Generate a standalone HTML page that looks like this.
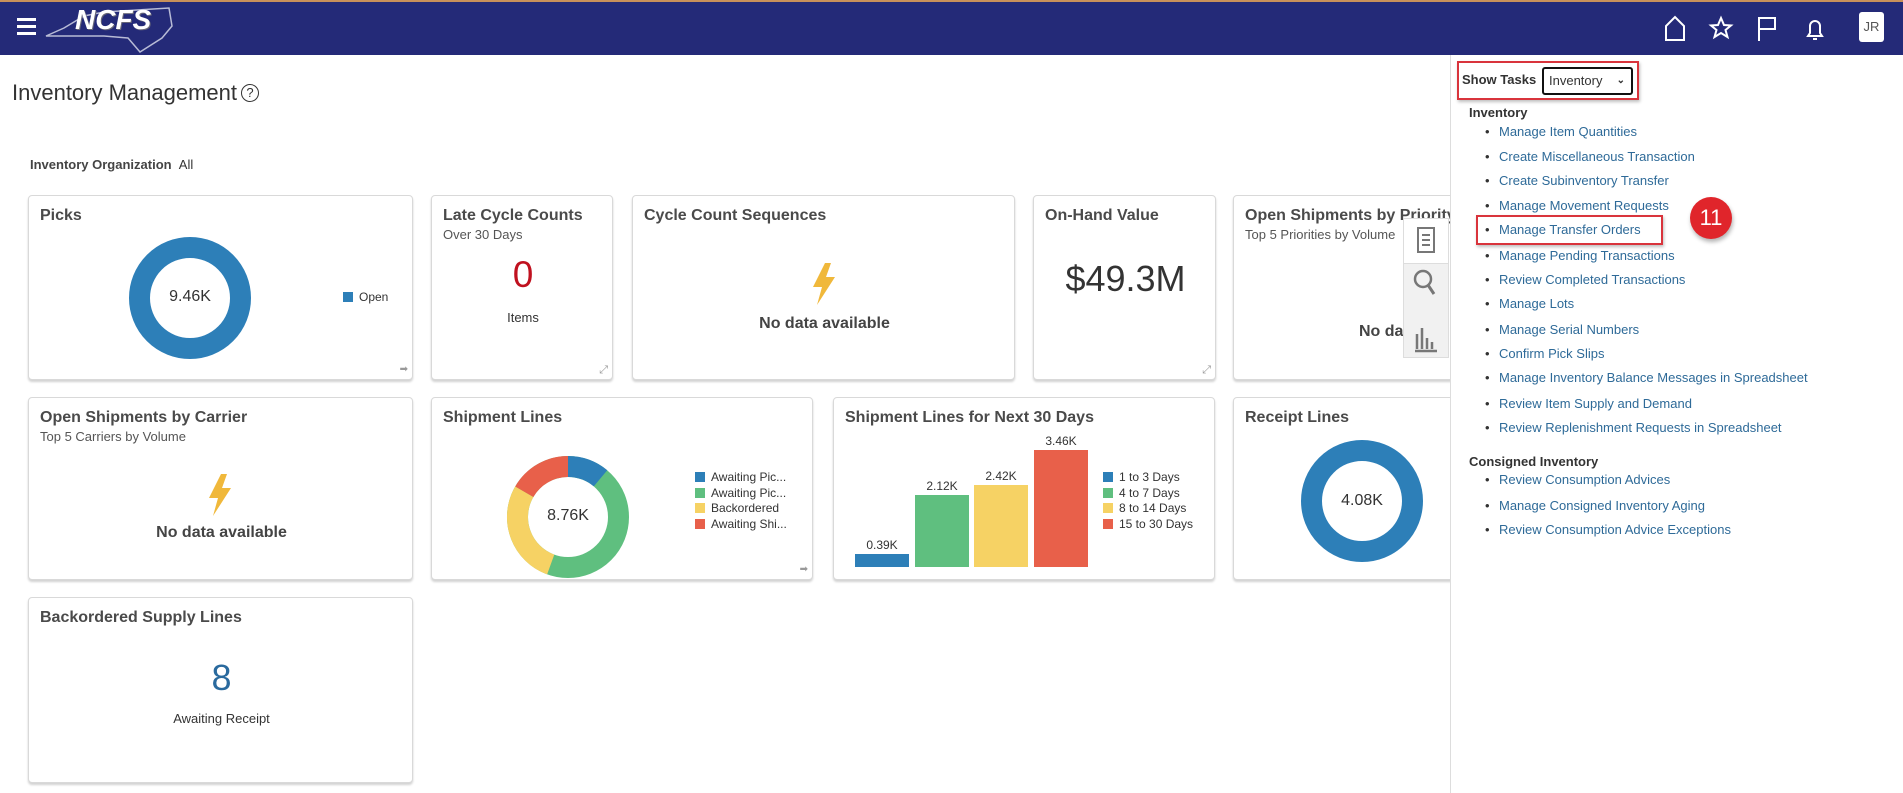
<!DOCTYPE html>
<html><head><meta charset="utf-8"><style>
*{margin:0;padding:0;box-sizing:border-box}
body{width:1903px;height:793px;background:#fff;font-family:"Liberation Sans",sans-serif;position:relative;overflow:hidden;color:#333}
.a{position:absolute;white-space:nowrap}
.card{position:absolute;background:#fff;border:1px solid #d9d9d9;border-radius:4px;box-shadow:0 2px 2px rgba(0,0,0,.18);overflow:hidden}
.t{position:absolute;left:11px;top:11px;font-size:16px;font-weight:bold;color:#4a4a4a}
.s{position:absolute;left:11px;top:31px;font-size:13px;color:#555}
.nd{font-size:16px;font-weight:bold;color:#444}
.lg{font-size:12px;color:#333}
.sq{display:inline-block;width:10px;height:10px;margin-right:6px;vertical-align:-1px}
.li{position:absolute;left:1499px;font-size:13px;color:#2e6a98}
.li:before{content:"•";position:absolute;left:-14px;color:#333}
</style></head><body>
<div class="a" style="left:0;top:0;width:1903px;height:55px;background:#242a78;border-top:2px solid #c8905a"></div>
<div class="a" style="left:17px;top:18px;width:19px;height:3px;background:#fff;box-shadow:0 7px 0 #fff,0 14px 0 #fff"></div>
<svg class="a" style="left:44px;top:4px" width="135" height="50"><path d="M2 32 L20 24 L40 12 L60 8 L125 4 L128 22 L118 34 L96 48 L84 34 L60 32 Z" fill="none" stroke="#b8bbd6" stroke-width="1.5"/></svg>
<div class="a" style="left:75px;top:4px;font-size:28px;font-weight:bold;font-style:italic;color:#fff;text-shadow:1px 1px 0 #667">NCFS</div>
<svg class="a" style="left:1662px;top:14px" width="230" height="30">
<path d="M4 26V12L13 3L22 12V26Z" fill="none" stroke="#fff" stroke-width="2"/>
<path d="M59 4l3 7 7 .5-5.5 4.5 2 7-6.5-4-6.5 4 2-7-5.5-4.5 7-.5z" fill="none" stroke="#fff" stroke-width="2"/>
<path d="M97 27V4h16v11H97" fill="none" stroke="#fff" stroke-width="2"/>
<path d="M146 22h14l-2-3v-7a5 5 0 0 0-10 0v7zM151 25h4" fill="none" stroke="#fff" stroke-width="2"/>
</svg>
<div class="a" style="left:1859px;top:12px;width:25px;height:30px;background:#fff;border-radius:3px;color:#555;font-size:13px;text-align:center;line-height:30px">JR</div>

<div class="a" style="left:12px;top:80px;font-size:22px;color:#333">Inventory Management</div>
<div class="a" style="left:241px;top:84px;width:18px;height:18px;border:1.5px solid #333;border-radius:50%;font-size:13px;text-align:center;line-height:16px">?</div>
<div class="a" style="left:30px;top:157px;font-size:13px;color:#333"><b style="font-weight:bold;color:#444">Inventory Organization</b>&nbsp;&nbsp;All</div>

<div class="card" style="left:28px;top:195px;width:385px;height:185px"><div class="t">Picks</div>
<svg class="a" style="left:99px;top:40px" width="124" height="124"><circle cx="62" cy="62" r="50.5" fill="none" stroke="#2d7fb8" stroke-width="21"/></svg>
<div class="a" style="left:135px;top:92px;font-size:16px;width:52px;text-align:center">9.46K</div>
<div class="a lg" style="left:314px;top:94px"><span class="sq" style="background:#2d7fb8"></span>Open</div>
<div class="a" style="right:4px;bottom:4px;color:#999;font-size:10px">➡</div></div>

<div class="card" style="left:431px;top:195px;width:182px;height:185px"><div class="t">Late Cycle Counts</div><div class="s">Over 30 Days</div>
<div class="a" style="left:0;width:182px;text-align:center;top:58px;font-size:37px;color:#c0111f">0</div>
<div class="a" style="left:0;width:182px;text-align:center;top:114px;font-size:13px">Items</div>
<div class="a" style="right:4px;bottom:2px;color:#999;font-size:11px">⤢</div></div>

<div class="card" style="left:632px;top:195px;width:383px;height:185px"><div class="t">Cycle Count Sequences</div>
<svg class="a" style="left:178px;top:67px" width="26" height="42"><path d="M14 0L2 24h9L6 42 24 14h-9L20 0z" fill="#f0b83b"/></svg>
<div class="a nd" style="left:0;width:383px;text-align:center;top:119px">No data available</div></div>

<div class="card" style="left:1033px;top:195px;width:183px;height:185px"><div class="t">On-Hand Value</div>
<div class="a" style="left:0;width:183px;text-align:center;top:62px;font-size:36px;color:#333">$49.3M</div>
<div class="a" style="right:4px;bottom:2px;color:#999;font-size:11px">⤢</div></div>

<div class="card" style="left:1233px;top:195px;width:240px;height:185px"><div class="t">Open Shipments by Priority</div><div class="s">Top 5 Priorities by Volume</div>
<div class="a nd" style="left:125px;top:127px">No data available</div></div>

<div class="card" style="left:28px;top:397px;width:385px;height:183px"><div class="t">Open Shipments by Carrier</div><div class="s">Top 5 Carriers by Volume</div>
<svg class="a" style="left:178px;top:76px" width="26" height="42"><path d="M14 0L2 24h9L6 42 24 14h-9L20 0z" fill="#f0b83b"/></svg>
<div class="a nd" style="left:0;width:385px;text-align:center;top:126px">No data available</div></div>

<div class="card" style="left:431px;top:397px;width:382px;height:183px"><div class="t">Shipment Lines</div>
<svg class="a" style="left:74px;top:57px" width="124" height="124" viewBox="-62 -62 124 124">
<g fill="none" stroke-width="21">
<circle r="50.5" stroke="#5fbf7f"/>
<path d="M0 -50.5A50.5 50.5 0 0 1 32.5 -38.7" stroke="#2d7fb8"/>
<path d="M-17.3 47.5A50.5 50.5 0 0 1 -43.7 -25.3" stroke="#f6d264"/>
<path d="M-43.7 -25.3A50.5 50.5 0 0 1 0 -50.5" stroke="#e8604a"/>
</g></svg>
<div class="a" style="left:110px;top:109px;font-size:16px;width:52px;text-align:center">8.76K</div>
<div class="a lg" style="left:263px;top:72px;line-height:15.5px"><div><span class="sq" style="background:#2d7fb8"></span>Awaiting Pic...</div><div><span class="sq" style="background:#5fbf7f"></span>Awaiting Pic...</div><div><span class="sq" style="background:#f6d264"></span>Backordered</div><div><span class="sq" style="background:#e8604a"></span>Awaiting Shi...</div></div>
<div class="a" style="right:4px;bottom:4px;color:#999;font-size:10px">➡</div></div>

<div class="card" style="left:833px;top:397px;width:382px;height:183px"><div class="t">Shipment Lines for Next 30 Days</div>
<div class="a" style="left:21px;top:156px;width:54px;height:13px;background:#2d7fb8"></div>
<div class="a" style="left:81px;top:97px;width:54px;height:72px;background:#5fbf7f"></div>
<div class="a" style="left:140px;top:87px;width:54px;height:82px;background:#f6d264"></div>
<div class="a" style="left:200px;top:52px;width:54px;height:117px;background:#e8604a"></div>
<div class="a" style="left:21px;top:140px;width:54px;text-align:center;font-size:12px">0.39K</div>
<div class="a" style="left:81px;top:81px;width:54px;text-align:center;font-size:12px">2.12K</div>
<div class="a" style="left:140px;top:71px;width:54px;text-align:center;font-size:12px">2.42K</div>
<div class="a" style="left:200px;top:36px;width:54px;text-align:center;font-size:12px">3.46K</div>
<div class="a lg" style="left:269px;top:72px;line-height:15.5px"><div><span class="sq" style="background:#2d7fb8"></span>1 to 3 Days</div><div><span class="sq" style="background:#5fbf7f"></span>4 to 7 Days</div><div><span class="sq" style="background:#f6d264"></span>8 to 14 Days</div><div><span class="sq" style="background:#e8604a"></span>15 to 30 Days</div></div></div>

<div class="card" style="left:1233px;top:397px;width:240px;height:183px"><div class="t">Receipt Lines</div>
<svg class="a" style="left:66px;top:41px" width="124" height="124"><circle cx="62" cy="62" r="50.5" fill="none" stroke="#2d7fb8" stroke-width="21"/></svg>
<div class="a" style="left:102px;top:94px;font-size:16px;width:52px;text-align:center">4.08K</div></div>

<div class="card" style="left:28px;top:597px;width:385px;height:186px"><div class="t">Backordered Supply Lines</div>
<div class="a" style="left:0;width:385px;text-align:center;top:59px;font-size:36px;color:#2a6a9e">8</div>
<div class="a" style="left:0;width:385px;text-align:center;top:113px;font-size:13px">Awaiting Receipt</div></div>

<div class="a" style="left:1403px;top:218px;width:46px;height:140px;background:#f1f1f1;border:1px solid #ddd"></div>
<div class="a" style="left:1403px;top:218px;width:46px;height:46px;background:#fff;border:1px solid #ddd"></div>
<svg class="a" style="left:1403px;top:218px" width="46" height="140">
<rect x="15" y="10" width="16" height="24" fill="none" stroke="#777" stroke-width="2"/><path d="M19 17h8M19 22h8M19 27h8" stroke="#777" stroke-width="2"/>
<circle cx="20" cy="61" r="8" fill="none" stroke="#777" stroke-width="2.5"/><path d="M25 67l6 9" stroke="#777" stroke-width="3"/>
<path d="M14 116v15M19 110v21M24 120v11M29 124v7M12 133h22" stroke="#777" stroke-width="2.5"/></svg>

<div class="a" style="left:1450px;top:55px;width:453px;height:738px;background:#fff;border-left:1px solid #ddd"></div>
<div class="a" style="left:1457px;top:61px;width:182px;height:39px;border:2px solid #d9343c;box-shadow:1px 2px 3px rgba(0,0,0,.25)"></div>
<div class="a" style="left:1462px;top:72px;font-size:13px;font-weight:bold;color:#333">Show Tasks</div>
<div class="a" style="left:1542px;top:67px;width:91px;height:28px;border:2px solid #111;border-radius:3px;font-size:13px;line-height:24px;padding-left:5px">Inventory <span style="position:absolute;right:6px;font-size:10px;font-weight:bold">⌄</span></div>
<div class="a" style="left:1469px;top:105px;font-size:13px;font-weight:bold;color:#333">Inventory</div>
<div class="li" style="top:124px">Manage Item Quantities</div>
<div class="li" style="top:149px">Create Miscellaneous Transaction</div>
<div class="li" style="top:173px">Create Subinventory Transfer</div>
<div class="li" style="top:198px">Manage Movement Requests</div>
<div class="li" style="top:222px">Manage Transfer Orders</div>
<div class="li" style="top:248px">Manage Pending Transactions</div>
<div class="li" style="top:272px">Review Completed Transactions</div>
<div class="li" style="top:296px">Manage Lots</div>
<div class="li" style="top:322px">Manage Serial Numbers</div>
<div class="li" style="top:346px">Confirm Pick Slips</div>
<div class="li" style="top:370px">Manage Inventory Balance Messages in Spreadsheet</div>
<div class="li" style="top:396px">Review Item Supply and Demand</div>
<div class="li" style="top:420px">Review Replenishment Requests in Spreadsheet</div>
<div class="a" style="left:1469px;top:454px;font-size:13px;font-weight:bold;color:#333">Consigned Inventory</div>
<div class="li" style="top:472px">Review Consumption Advices</div>
<div class="li" style="top:498px">Manage Consigned Inventory Aging</div>
<div class="li" style="top:522px">Review Consumption Advice Exceptions</div>
<div class="a" style="left:1476px;top:215px;width:187px;height:30px;border:2px solid #d9343c;box-shadow:1px 2px 3px rgba(0,0,0,.25)"></div>
<div class="a" style="left:1690px;top:197px;width:42px;height:42px;border-radius:50%;background:#e0252b;color:#fff;font-size:22px;text-align:center;line-height:42px;box-shadow:1px 3px 4px rgba(0,0,0,.3)">11</div>
</body></html>
